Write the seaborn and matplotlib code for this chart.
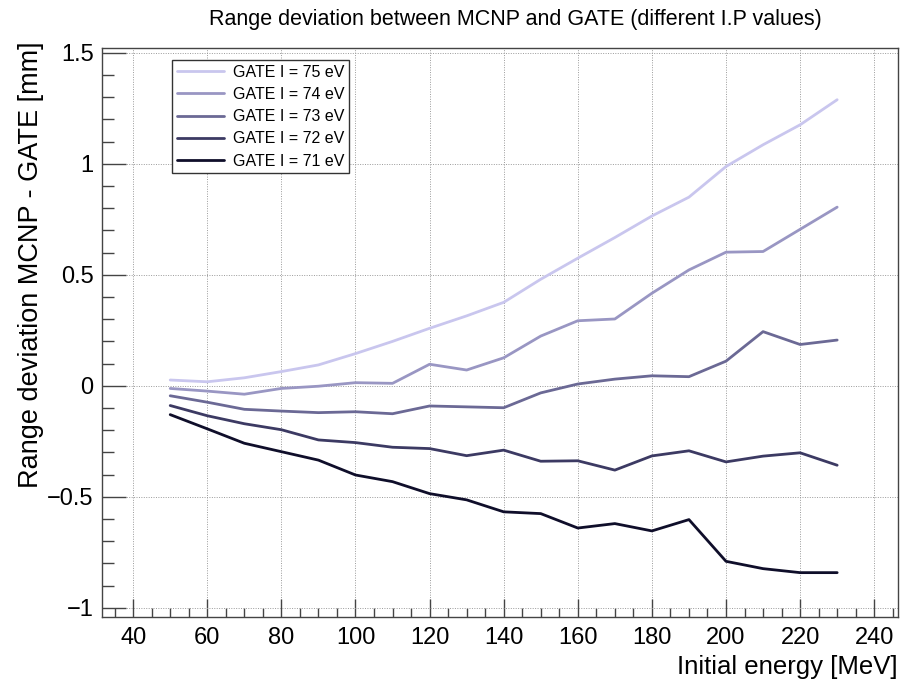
import numpy as np
import pandas as pd
import matplotlib
matplotlib.use("Agg")
import matplotlib.pyplot as plt
from matplotlib.ticker import MultipleLocator
import seaborn as sns

energy = [50, 60, 70, 80, 90, 100, 110, 120, 130, 140, 150, 160, 170, 180, 190, 200, 210, 220, 230]
gate75 = [0.026, 0.018, 0.036, 0.064, 0.094, 0.145, 0.200, 0.259, 0.315, 0.376, 0.480, 0.575, 0.668, 0.765, 0.850, 0.988, 1.086, 1.176, 1.289]
gate74 = [-0.012, -0.024, -0.038, -0.012, -0.002, 0.014, 0.011, 0.097, 0.071, 0.126, 0.224, 0.293, 0.301, 0.417, 0.522, 0.602, 0.605, 0.705, 0.805]
gate73 = [-0.045, -0.074, -0.106, -0.114, -0.121, -0.117, -0.126, -0.091, -0.095, -0.099, -0.032, 0.008, 0.030, 0.045, 0.041, 0.111, 0.244, 0.186, 0.206]
gate72 = [-0.089, -0.135, -0.171, -0.198, -0.244, -0.256, -0.277, -0.283, -0.315, -0.290, -0.340, -0.338, -0.380, -0.316, -0.293, -0.343, -0.317, -0.302, -0.358]
gate71 = [-0.130, -0.194, -0.259, -0.297, -0.335, -0.402, -0.432, -0.486, -0.514, -0.568, -0.576, -0.641, -0.621, -0.654, -0.603, -0.791, -0.824, -0.842, -0.842]

labels = ["GATE I = 75 eV", "GATE I = 74 eV", "GATE I = 73 eV", "GATE I = 72 eV", "GATE I = 71 eV"]
series = [gate75, gate74, gate73, gate72, gate71]
colors = ["#c9c6ee", "#9996c3", "#6b6995", "#3c3a63", "#0f0e2a"]

df = pd.concat([pd.DataFrame({"energy": energy, "dev": s, "series": lab})
                for s, lab in zip(series, labels)], ignore_index=True)

sns.set_style("white")
plt.rcParams["font.family"] = ["Liberation Sans", "DejaVu Sans"]
plt.rcParams["text.color"] = "black"
plt.rcParams["axes.labelcolor"] = "black"
plt.rcParams["xtick.color"] = "black"
plt.rcParams["ytick.color"] = "black"

fig = plt.figure(figsize=(9.07, 6.83), dpi=100)
ax = fig.add_axes([0.1125, 0.0966, 0.8775, 0.8331])

sns.lineplot(data=df, x="energy", y="dev", hue="series", hue_order=labels,
             palette=dict(zip(labels, colors)), linewidth=2.0, ax=ax, sort=False)

ax.set_xlim(31.6, 246.4)
ax.set_ylim(-1.042, 1.522)
ax.xaxis.set_major_locator(MultipleLocator(20))
ax.xaxis.set_minor_locator(MultipleLocator(5))
ax.yaxis.set_minor_locator(MultipleLocator(0.1))
ax.set_yticks([-1, -0.5, 0, 0.5, 1, 1.5])
ax.set_yticklabels(["\u22121", "\u22120.5", "0", "0.5", "1", "1.5"])

ax.grid(True, which="major", linestyle=(0, (1, 1.5)), linewidth=0.7, color="#9a9a9a")
ax.tick_params(axis="both", which="both", bottom=True, left=True, top=False, right=False)
ax.tick_params(axis="x", which="major", direction="in", length=13, width=1, color="#444444",
               labelsize=17, pad=7)
ax.tick_params(axis="x", which="minor", direction="in", length=6.5, width=1, color="#444444")
ax.tick_params(axis="y", which="major", direction="in", length=17, width=1, color="#444444",
               labelsize=17, pad=6)
ax.tick_params(axis="y", which="minor", direction="in", length=8.6, width=1, color="#444444")
for sp in ax.spines.values():
    sp.set_color("#444444")
    sp.set_linewidth(1.0)

ax.set_xlabel("Initial energy [MeV]", fontsize=18.5, loc="right")
ax.xaxis.set_label_coords(1.0, -0.067)
ax.set_ylabel("Range deviation MCNP - GATE [mm]", fontsize=19.5, loc="top")
ax.yaxis.set_label_coords(-0.073, 1.012)
fig.text(0.568, 0.972, "Range deviation between MCNP and GATE (different I.P values)",
         ha="center", va="center", fontsize=15.5)

leg = ax.legend(loc="upper left", bbox_to_anchor=(0.0885, 0.979), fontsize=11.5,
                frameon=True, fancybox=False, edgecolor="#333333", framealpha=1,
                handlelength=2.9, handletextpad=0.6, labelspacing=0.45, borderpad=0.3,
                borderaxespad=0.0, title=None)
leg.get_frame().set_linewidth(1.0)

fig.savefig("out.png", dpi=100)
